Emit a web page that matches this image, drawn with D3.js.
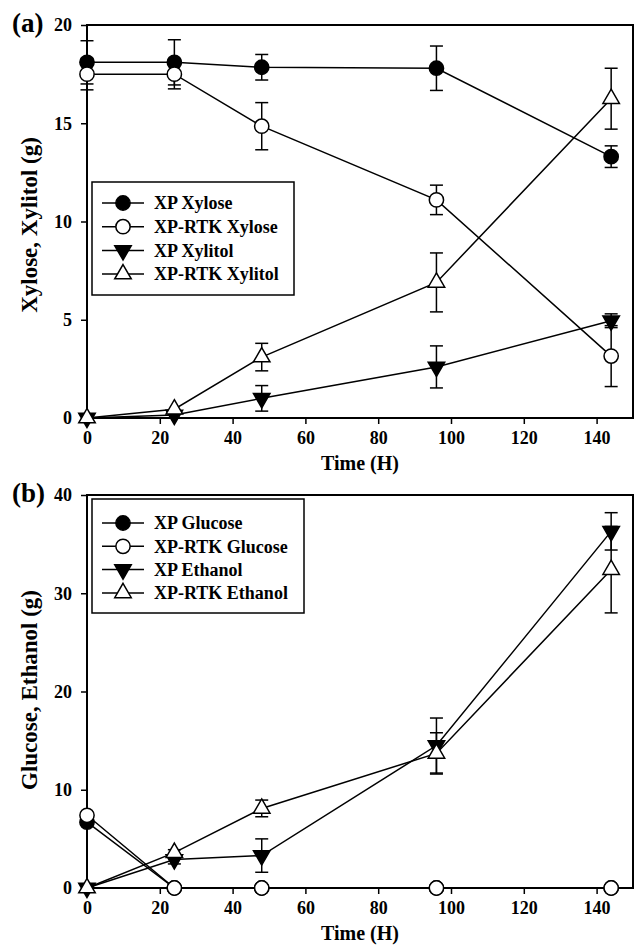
<!DOCTYPE html>
<html>
<head>
<meta charset="utf-8">
<script src="https://cdn.jsdelivr.net/npm/d3@7"></script>
<style>
  body { margin: 0; background: #fff; }
  svg { display: block; font-family: "Liberation Serif", "Times New Roman", serif; font-weight: bold; }
  svg text { font-family: "Liberation Serif", "Times New Roman", serif; font-weight: bold; }
</style>
</head>
<body>
<div id="chart"></div>
<script>
// sampling times (hours)
const timeH = [0, 24, 48, 96, 144];
const xTicks = [0, 20, 40, 60, 80, 100, 120, 140];

// panel (a): xylose / xylitol (g)
const xpXylose = [18.1, 18.1, 17.85, 17.8, 13.3];
const xpXyloseErr = [1.1, 1.15, 0.65, 1.13, 0.55];
const rtkXylose = [17.5, 17.5, 14.85, 11.1, 3.15];
const rtkXyloseErr = [0.8, 0.75, 1.2, 0.75, 1.55];
const xpXylitol = [0, 0.15, 1.0, 2.6, 4.95];
const xpXylitolErr = [0, 0, 0.65, 1.07, 0.35];
const rtkXylitol = [0, 0.45, 3.1, 6.9, 16.25];
const rtkXylitolErr = [0, 0, 0.7, 1.5, 1.55];
const yTicksA = [0, 5, 10, 15, 20];

// panel (b): glucose / ethanol (g)
const xpGlucose = [6.7, 0, 0, 0, 0];
const rtkGlucose = [7.4, 0, 0, 0, 0];
const xpEthanol = [0, 2.9, 3.3, 14.5, 36.3];
const xpEthanolErr = [0, 0.45, 1.7, 2.8, 1.9];
const rtkEthanol = [0, 3.6, 8.1, 13.7, 32.4];
const rtkEthanolErr = [0, 0.3, 0.85, 2.1, 4.4];
const yTicksB = [0, 10, 20, 30, 40];

const width = 636;
const height = 948;

const svg = d3.create("svg")
  .attr("width", width)
  .attr("height", height)
  .attr("viewBox", [0, 0, width, height]);

// marker shapes
const markers = {
  filledCircle: { type: d3.symbolCircle, fill: "#000", rotate: 0 },
  openCircle: { type: d3.symbolCircle, fill: "#fff", rotate: 0 },
  filledDown: { type: d3.symbolTriangle, fill: "#000", rotate: 180 },
  openUp: { type: d3.symbolTriangle, fill: "#fff", rotate: 0 },
};

function symbolPath(m) {
  const size = m.type === d3.symbolCircle ? 160 : 118;
  return d3.symbol().type(m.type).size(size)();
}

function drawPanel(cfg) {
  const left = 87, right = 633;
  const x = d3.scaleLinear().domain([0, 150]).range([left, right]);
  const y = d3.scaleLinear().domain(cfg.yDomain).range([cfg.bottom, cfg.top]);

  const g = svg.append("g");

  // x axis
  g.append("g")
    .attr("transform", `translate(0,${cfg.bottom})`)
    .call(d3.axisBottom(x).tickValues(xTicks).tickSize(6).tickSizeOuter(0).tickPadding(7))
    .attr("font-family", null)
    .attr("font-size", 18)
    .call((a) => a.select(".domain").remove())
    .call((a) => a.selectAll(".tick line").attr("stroke-width", 1.5))
    .call((a) => a.selectAll(".tick text").attr("fill", "#000"));

  // y axis
  g.append("g")
    .attr("transform", `translate(${left},0)`)
    .call(d3.axisLeft(y).tickValues(cfg.yTicks).tickSize(6).tickSizeOuter(0).tickPadding(9))
    .attr("font-family", null)
    .attr("font-size", 18)
    .call((a) => a.select(".domain").remove())
    .call((a) => a.selectAll(".tick line").attr("stroke-width", 1.5))
    .call((a) => a.selectAll(".tick text").attr("fill", "#000"));

  // frame
  g.append("rect")
    .attr("x", left).attr("y", cfg.top)
    .attr("width", right - left).attr("height", cfg.bottom - cfg.top)
    .attr("fill", "none").attr("stroke", "#000").attr("stroke-width", 2);

  // titles
  g.append("text")
    .attr("x", (left + right) / 2).attr("y", cfg.bottom + 52)
    .attr("text-anchor", "middle").attr("font-size", 20)
    .text("Time (H)");

  g.append("text")
    .attr("transform", `translate(37,${cfg.yTitleY}) rotate(-90)`)
    .attr("text-anchor", "middle").attr("font-size", 23)
    .text(cfg.yTitle);

  g.append("text")
    .attr("x", 12).attr("y", cfg.top + 7)
    .attr("font-size", 27)
    .text(cfg.tag);

  const line = d3.line().x((d) => x(d.t)).y((d) => y(d.v));

  const series = cfg.series.map((s) => ({
    ...s,
    values: timeH.map((t, i) => ({ t, v: s.values[i], e: s.err ? s.err[i] : 0 })),
  }));

  // lines
  g.append("g")
    .selectAll("path")
    .data(series)
    .join("path")
    .attr("d", (d) => line(d.values))
    .attr("fill", "none")
    .attr("stroke", "#000")
    .attr("stroke-width", 1.5);

  // error bars
  const eb = g.append("g").attr("stroke", "#000").attr("stroke-width", 1.5);
  series.forEach((s) => {
    s.values.filter((d) => d.e > 0).forEach((d) => {
      const cx = x(d.t);
      eb.append("line").attr("x1", cx).attr("x2", cx)
        .attr("y1", y(d.v + d.e)).attr("y2", y(d.v - d.e));
      [d.v + d.e, d.v - d.e].forEach((v) => {
        eb.append("line").attr("x1", cx - 6.5).attr("x2", cx + 6.5)
          .attr("y1", y(v)).attr("y2", y(v));
      });
    });
  });

  // markers
  series.forEach((s) => {
    const m = markers[s.marker];
    g.append("g")
      .selectAll("path")
      .data(s.values)
      .join("path")
      .attr("d", symbolPath(m))
      .attr("transform", (d) => `translate(${x(d.t)},${y(d.v)}) rotate(${m.rotate})`)
      .attr("fill", m.fill)
      .attr("stroke", "#000")
      .attr("stroke-width", 1.5);
  });

  // legend
  const lg = g.append("g");
  lg.append("rect")
    .attr("x", 92).attr("y", cfg.legend.top)
    .attr("width", cfg.legend.width).attr("height", cfg.legend.height)
    .attr("fill", "#fff").attr("stroke", "#000").attr("stroke-width", 1.5);
  series.forEach((s, i) => {
    const ly = cfg.legend.first + i * cfg.legend.step;
    const m = markers[s.marker];
    lg.append("line").attr("x1", 102).attr("x2", 144)
      .attr("y1", ly).attr("y2", ly)
      .attr("stroke", "#000").attr("stroke-width", 1.5);
    lg.append("path")
      .attr("d", symbolPath(m))
      .attr("transform", `translate(123,${ly}) rotate(${m.rotate})`)
      .attr("fill", m.fill).attr("stroke", "#000").attr("stroke-width", 1.5);
    lg.append("text")
      .attr("x", 154).attr("y", ly).attr("dy", "0.35em")
      .attr("font-size", 18)
      .text(s.name);
  });
}

drawPanel({
  tag: "(a)",
  top: 25, bottom: 418,
  yDomain: [0, 20], yTicks: yTicksA,
  yTitle: "Xylose, Xylitol (g)", yTitleY: 225,
  legend: { top: 182, width: 202, height: 113, first: 203, step: 23.7 },
  series: [
    { name: "XP Xylose", marker: "filledCircle", values: xpXylose, err: xpXyloseErr },
    { name: "XP-RTK Xylose", marker: "openCircle", values: rtkXylose, err: rtkXyloseErr },
    { name: "XP Xylitol", marker: "filledDown", values: xpXylitol, err: xpXylitolErr },
    { name: "XP-RTK Xylitol", marker: "openUp", values: rtkXylitol, err: rtkXylitolErr },
  ],
});

drawPanel({
  tag: "(b)",
  top: 495, bottom: 888,
  yDomain: [0, 40], yTicks: yTicksB,
  yTitle: "Glucose, Ethanol (g)", yTitleY: 690,
  legend: { top: 499, width: 212, height: 114, first: 523, step: 23.3 },
  series: [
    { name: "XP Glucose", marker: "filledCircle", values: xpGlucose, err: null },
    { name: "XP-RTK Glucose", marker: "openCircle", values: rtkGlucose, err: null },
    { name: "XP Ethanol", marker: "filledDown", values: xpEthanol, err: xpEthanolErr },
    { name: "XP-RTK Ethanol", marker: "openUp", values: rtkEthanol, err: rtkEthanolErr },
  ],
});

document.getElementById("chart").appendChild(svg.node());
</script>
</body>
</html>
